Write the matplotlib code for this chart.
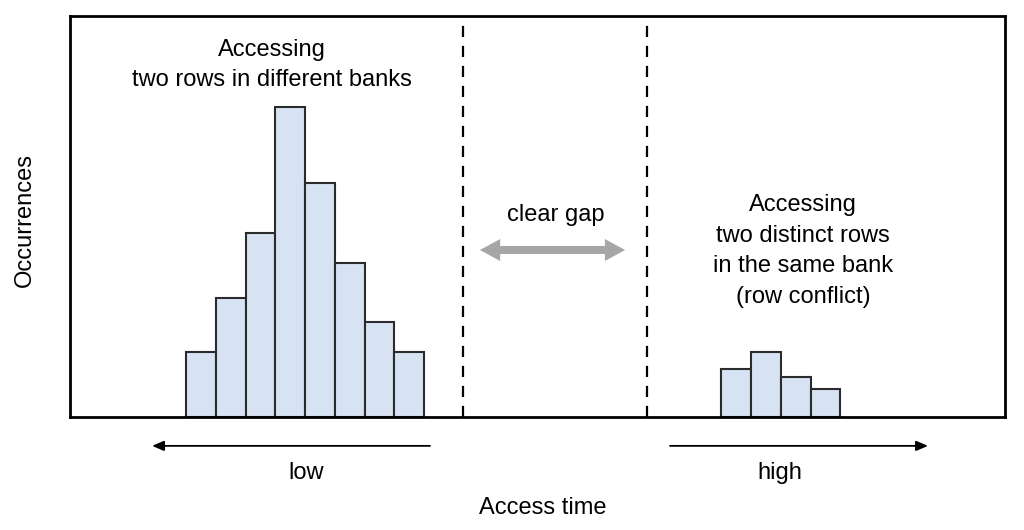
import numpy as np
import matplotlib.pyplot as plt
import matplotlib.patches as mpatches

plt.rcParams['font.family'] = ['Liberation Sans', 'DejaVu Sans']

# histogram bins (access time, arbitrary units) and occurrence counts
low_bins = [0, 1, 2, 3, 4, 5, 6, 7]
low_counts = [6.5, 11.9, 18.4, 31.0, 23.4, 15.4, 9.5, 6.5]
high_bins = [18, 19, 20, 21]
high_counts = [4.8, 6.5, 4.0, 2.8]
gap_edges = [9.31, 15.5]

fig = plt.figure(figsize=(10.24, 5.3), dpi=100)
ax = fig.add_axes([70 / 1024, 113 / 530, 935 / 1024, 401 / 530])

bar_kw = dict(width=1.0, align='edge', color='#d7e3f3', edgecolor='#2b2b2b', linewidth=1.5, zorder=2)
ax.bar(low_bins, low_counts, **bar_kw)
ax.bar(high_bins, high_counts, **bar_kw)

ax.set_xlim(-3.9, 27.53)
ax.set_ylim(0, 40.1)
ax.set_xticks([])
ax.set_yticks([])
for s in ax.spines.values():
    s.set_linewidth(2)
    s.set_color('black')

for xg in gap_edges:
    ax.axvline(xg, color='black', lw=1.6, dashes=(5, 4), zorder=1)

# grey double arrow marking the gap (two halves overlapping in the middle)
mid = (9.88 + 14.76) / 2
for end in (9.88, 14.76):
    start = mid + 0.3 * np.sign(mid - end)
    ax.add_patch(mpatches.FancyArrow(start, 16.7, end - start, 0, width=0.8, head_width=2.2,
                                     head_length=0.68, length_includes_head=True,
                                     color='#a6a6a6', lw=0))
ax.text(12.44, 20.2, 'clear gap', ha='center', va='center', fontsize=17)

ax.text(2.9, 35.2, 'Accessing\ntwo rows in different banks', ha='center', va='center',
        fontsize=17, linespacing=1.5)
ax.text(20.75, 16.6, 'Accessing\ntwo distinct rows\nin the same bank\n(row conflict)',
        ha='center', va='center', fontsize=17, linespacing=1.5)

# time direction arrows below the axes
tr = ax.get_xaxis_transform()
ax.annotate('', xy=(-1.14, -0.072), xytext=(8.2, -0.072), xycoords=tr, textcoords=tr,
            arrowprops=dict(arrowstyle='-|>,head_length=0.7,head_width=0.3', color='black',
                            lw=1.3, shrinkA=0, shrinkB=0), annotation_clip=False)
ax.annotate('', xy=(24.94, -0.072), xytext=(16.27, -0.072), xycoords=tr, textcoords=tr,
            arrowprops=dict(arrowstyle='-|>,head_length=0.7,head_width=0.3', color='black',
                            lw=1.3, shrinkA=0, shrinkB=0), annotation_clip=False)
ax.text(4.03, -0.14, 'low', transform=tr, ha='center', va='center', fontsize=17)
ax.text(19.97, -0.14, 'high', transform=tr, ha='center', va='center', fontsize=17)

fig.text(543 / 1024, 1 - 508 / 530, 'Access time', ha='center', va='center', fontsize=17)
fig.text(25 / 1024, 1 - 220 / 530, 'Occurrences', ha='center', va='center', fontsize=17, rotation=90)

fig.savefig('out.png', dpi=100)
